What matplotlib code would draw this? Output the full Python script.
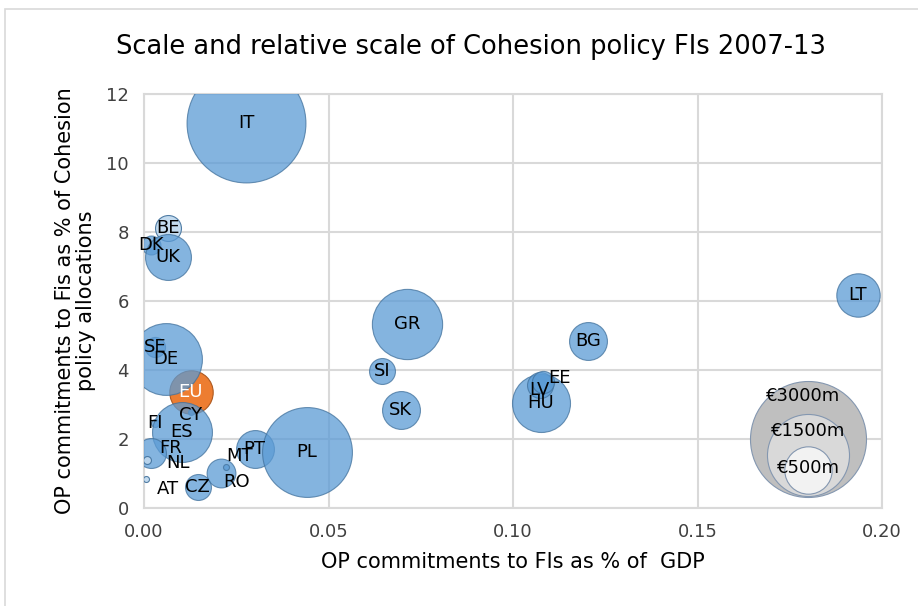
import numpy as np
import matplotlib.pyplot as plt
from matplotlib.patches import Rectangle

# data
countries = ['IT', 'BE', 'DK', 'UK', 'SE', 'DE', 'FI', 'CY', 'ES', 'FR', 'NL', 'AT',
             'CZ', 'RO', 'MT', 'PT', 'PL', 'SI', 'SK', 'GR', 'HU', 'LV', 'EE', 'BG', 'LT']
pct_gdp = [0.0277, 0.0065, 0.0019, 0.0065, 0.0030, 0.0060, 0.0030, 0.0127, 0.0103, 0.0020,
           0.0008, 0.0005, 0.0146, 0.0209, 0.0222, 0.0300, 0.0442, 0.0645, 0.0696, 0.0713,
           0.1076, 0.1073, 0.1081, 0.1203, 0.1934]
pct_cohesion = [11.15, 8.12, 7.62, 7.28, 4.67, 4.32, 2.46, 2.78, 2.20, 1.60,
                1.39, 0.84, 0.61, 1.01, 1.19, 1.71, 1.62, 3.97, 2.84, 5.33,
                3.04, 3.57, 3.65, 4.84, 6.16]
commit_m = [3150, 150, 80, 470, 90, 1150, 14, 8, 800, 200,
            14, 8, 150, 185, 8, 320, 1800, 150, 320, 1100,
            750, 150, 110, 320, 420]
light = ['BE', 'NL', 'AT']

eu_x, eu_y, eu_size = 0.0127, 3.36, 420

legend_vals = [3000, 1500, 500]
legend_y = [2.0, 1.55, 1.1]
legend_x = 0.18

# label nudges in pixels (dx, dy)
nudge = {'FR': (19, 5), 'NL': (31, -3), 'AT': (22, -10), 'RO': (15, -9),
         'MT': (14, 11), 'EE': (17, 4), 'LV': (0, -5), 'CY': (0, -3)}

DPI = 100
K = 58 / np.sqrt(3000)  # pixel radius per sqrt(EUR m)


def area(v):
    r = K * np.sqrt(np.asarray(v, dtype=float))
    return (2 * r * 72 / DPI) ** 2


fig = plt.figure(figsize=(9.18, 6.06), dpi=DPI)
ax = fig.add_axes([144 / 918, 1 - 508 / 606, 738 / 918, 414 / 606])

fig.patches.append(Rectangle((5 / 918, -0.1), 1.1, 1 - 9 / 606 + 0.1,
                             transform=fig.transFigure, fill=False,
                             edgecolor='#D9D9D9', linewidth=1.2))

ax.set_xlim(0, 0.2)
ax.set_ylim(0, 12)
ax.set_xticks(np.arange(0, 0.201, 0.05))
ax.set_yticks(np.arange(0, 12.1, 2))
ax.set_xticklabels(['%.2f' % t for t in np.arange(0, 0.201, 0.05)])
ax.grid(True, color='#D9D9D9', linewidth=1.5)
ax.set_axisbelow(True)
for s in ax.spines.values():
    s.set_color('#D9D9D9')
    s.set_linewidth(1.5)
ax.tick_params(length=0, labelsize=13, colors='#404040', pad=11)

# size legend
for v, y, c in zip(legend_vals, legend_y, ['#BFBFBF', '#D9D9D9', '#F2F2F2']):
    ax.scatter(legend_x, y, s=area(v), color=c, edgecolors='#8497B0', linewidths=0.8, zorder=2)
ax.text(legend_x - 0.0013, 3.25, '€3000m', ha='center', va='center', fontsize=13)
ax.text(legend_x, 2.22, '€1500m', ha='center', va='center', fontsize=13)
ax.text(legend_x, 1.16, '€500m', ha='center', va='center', fontsize=13)

# EU average
ax.scatter(eu_x, eu_y, s=area(eu_size), color='#ED7D31', edgecolors='#AE5A21',
           linewidths=0.8, zorder=3)

cols = ['#BDD7EE' if c in light else '#5B9BD5' for c in countries]
alphas = [0.9 if c in light else 0.75 for c in countries]
for x, y, v, col, a in zip(pct_gdp, pct_cohesion, commit_m, cols, alphas):
    ax.scatter(x, y, s=area(v), color=col, alpha=a, edgecolors='#41719C',
               linewidths=0.8, zorder=4, clip_on=True)

for name, x, y in zip(countries, pct_gdp, pct_cohesion):
    dx, dy = nudge.get(name, (0, 0))
    ax.annotate(name, (x, y), xytext=(dx * 72 / DPI, dy * 72 / DPI),
                textcoords='offset points', ha='center', va='center',
                fontsize=13, color='#000000', zorder=6)
ax.text(eu_x, eu_y, 'EU', ha='center', va='center', fontsize=13, color='white', zorder=6)

ax.set_xlabel('OP commitments to FIs as % of  GDP', fontsize=15, color='#000000', labelpad=8)
ax.set_ylabel('OP commitments to Fis as % of Cohesion\npolicy allocations', fontsize=15,
              color='#000000', labelpad=7, linespacing=1.1)
fig.text(471 / 918, 1 - 47 / 606, 'Scale and relative scale of Cohesion policy FIs 2007-13',
         ha='center', va='center', fontsize=18.5)

fig.savefig('out.png', dpi=DPI)
